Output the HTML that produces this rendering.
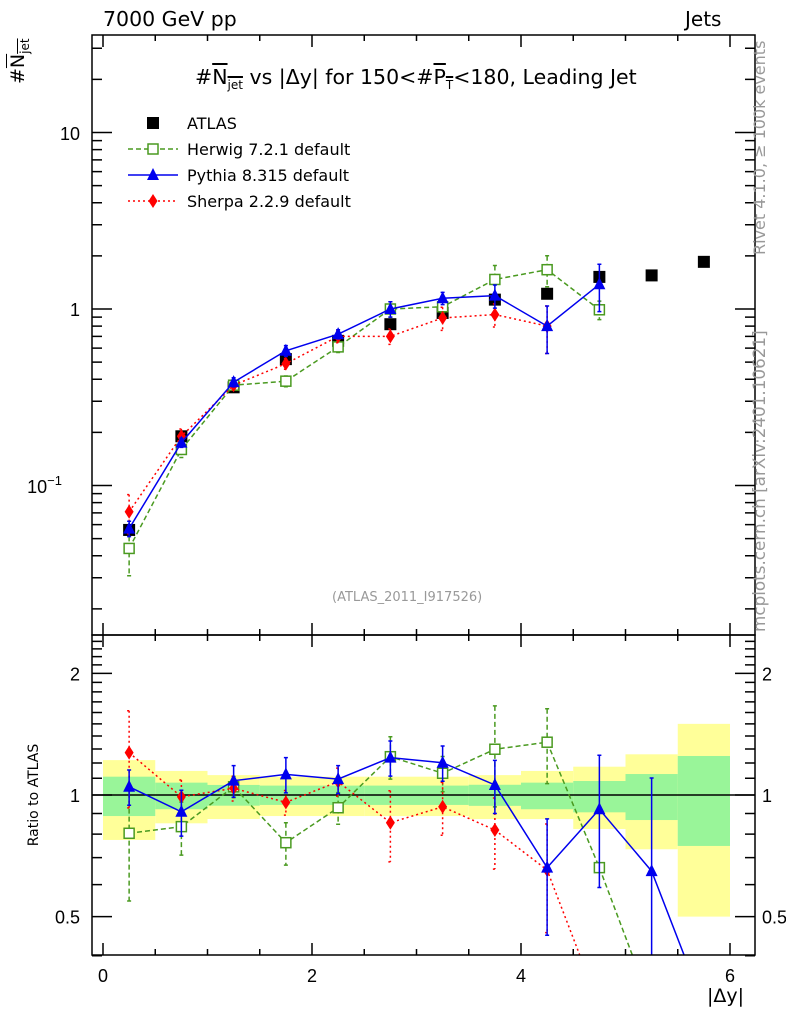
<!DOCTYPE html>
<html><head><meta charset="utf-8"><style>
html,body{margin:0;padding:0;width:786px;height:1024px;overflow:hidden;background:#fff;font-family:"DejaVu Sans","Liberation Sans",sans-serif;}
#wrap{position:relative;width:786px;height:1024px;overflow:hidden;}
.t{position:absolute;white-space:nowrap;color:#000;line-height:1.15;}
.ov{text-decoration:overline;}
</style></head><body>
<div id="wrap">
<svg id="svg" width="786" height="1024" style="position:absolute;left:0;top:0"></svg>
<div class="t" style="left:103px;top:8px;font-size:20.5px">7000 GeV pp</div>
<div class="t" style="left:685px;top:8px;font-size:20px">Jets</div>
<div class="t" style="left:195px;top:66px;font-size:20.5px">#<span class="ov">N<sub style="font-size:12px">jet</sub></span> vs |Δy| for 150&lt;#<span class="ov">P<sub style="font-size:12px">T</sub></span>&lt;180, Leading Jet</div>
<div class="t" style="left:8px;font-size:19px;transform:rotate(-90deg);transform-origin:left top;top:84px">#<span class="ov">N<sub style="font-size:12px">jet</sub></span></div>
<div class="t" style="left:332px;top:591px;font-size:13px;color:#999">(ATLAS_2011_I917526)</div>
<div class="t" style="left:707px;top:986px;font-size:19px">|Δy|</div>
</div>
<script>
const xc=[0.25,0.75,1.25,1.75,2.25,2.75,3.25,3.75,4.25,4.75,5.25,5.75];
const atlas=[0.056,0.19,0.36,0.52,0.66,0.82,0.95,1.13,1.22,1.52,1.55,1.85];
const herwig=[0.044,0.16,0.37,0.39,0.61,1.0,1.03,1.47,1.67,0.99];
const herwigErr=[0.3,0.1,0.05,0.07,0.07,0.1,0.08,0.2,0.2,0.12];
const pythia=[0.057,0.175,0.385,0.58,0.72,1.0,1.15,1.19,0.80,1.38];
const pythiaErr=[0.1,0.06,0.06,0.07,0.06,0.1,0.08,0.15,0.3,0.3];
const sherpa=[0.071,0.19,0.37,0.49,0.70,0.70,0.89,0.93,0.80];
const sherpaErr=[0.25,0.1,0.06,0.07,0.08,0.1,0.15,0.15,0.3];
const herwigR=[0.804,0.835,1.048,0.762,0.930,1.244,1.132,1.298,1.351,0.661,0.3];
const herwigRErr=[0.32,0.15,0.06,0.12,0.09,0.12,0.1,0.28,0.21,0];
const pythiaR=[1.048,0.909,1.085,1.125,1.095,1.237,1.202,1.059,0.661,0.922,0.648,0.3];
const pythiaRErr=[0.1,0.13,0.09,0.10,0.08,0.1,0.1,0.15,0.32,0.36,0.7];
const sherpaR=[1.273,0.990,1.039,0.959,1.079,0.854,0.935,0.819,0.652,0.3];
const sherpaRErr=[0.27,0.1,0.07,0.07,0.08,0.2,0.15,0.2,0.3];
const binEdges=[0,0.5,1,1.5,2,2.5,3,3.5,4,4.5,5,5.5,6];
const yelUp=[1.22,1.147,1.12,1.11,1.11,1.11,1.11,1.12,1.147,1.175,1.261,1.50];
const yelDn=[0.774,0.851,0.872,0.887,0.887,0.887,0.887,0.872,0.872,0.824,0.734,0.50];
const grnUp=[1.11,1.073,1.059,1.055,1.055,1.055,1.055,1.06,1.073,1.083,1.127,1.249];
const grnDn=[0.887,0.922,0.941,0.945,0.945,0.945,0.945,0.94,0.922,0.906,0.867,0.748];
const xTicks=[0,2,4,6];

const svg=document.getElementById('svg');const NS='http://www.w3.org/2000/svg';
const L=92,R=755,T=35,MB=635,RB=955;
const X=v=>103+104.5*v;
const Y=v=>309-176.5*Math.log10(v);
const YR=v=>795-404*Math.log10(v);
function mk(tag,a,name){const e=document.createElementNS(NS,tag);for(const k in a)e.setAttribute(k,a[k]);


svg.appendChild(e);return e;}
function txt(x,y,s,anchor,size,name,fam){const e=mk('text',{x:x,y:y,'text-anchor':anchor,'font-size':size,'font-family':fam||'Liberation Sans, sans-serif'},name);e.textContent=s;return e;}
const defs=mk('defs',{},'defs');
defs.innerHTML='<clipPath id="cm"><rect x="'+L+'" y="'+T+'" width="'+(R-L)+'" height="'+(MB-T)+'"/></clipPath><clipPath id="cr"><rect x="'+L+'" y="'+MB+'" width="'+(R-L)+'" height="'+(RB-MB)+'"/></clipPath>';
for(let i=0;i<yelUp.length;i++){
 mk('rect',{x:X(binEdges[i]),y:YR(yelUp[i]),width:X(binEdges[i+1])-X(binEdges[i]),height:YR(yelDn[i])-YR(yelUp[i]),fill:'#ffff99'},'syst-band-bin');
}
for(let i=0;i<grnUp.length;i++){
 mk('rect',{x:X(binEdges[i]),y:YR(grnUp[i]),width:X(binEdges[i+1])-X(binEdges[i]),height:YR(grnDn[i])-YR(grnUp[i]),fill:'#99f599'},'stat-band-bin');
}
mk('line',{x1:L,x2:R,y1:YR(1),y2:YR(1),stroke:'#000','stroke-width':1.5},'ratio-unity-line');
function series(vals,errs,yf,color,dash,marker,name,clip){
 const g=mk('g',{'clip-path':'url(#'+clip+')'},name);
 const pts=vals.map((v,i)=>X(xc[i])+','+yf(v)).join(' ');
 const pl=document.createElementNS(NS,'polyline');pl.setAttribute('points',pts);pl.setAttribute('fill','none');pl.setAttribute('stroke',color);pl.setAttribute('stroke-width',1.5);if(dash)pl.setAttribute('stroke-dasharray',dash);
 
 
 g.appendChild(pl);
 vals.forEach((v,i)=>{const x=X(xc[i]);
  if(errs&&errs[i]){const y1=yf(v*(1+errs[i])),y2=yf(Math.max(v*(1-errs[i]),0.01));
   const e=document.createElementNS(NS,'path');e.setAttribute('d','M'+x+' '+y1+'V'+y2+'M'+(x-2)+' '+y1+'h4M'+(x-2)+' '+y2+'h4');e.setAttribute('stroke',color);e.setAttribute('stroke-width',1.5);if(dash)e.setAttribute('stroke-dasharray',dash);
   
   
   g.appendChild(e);}
  const y=yf(v);let m;
  if(marker==='sq'){m=document.createElementNS(NS,'rect');m.setAttribute('x',x-5);m.setAttribute('y',y-5);m.setAttribute('width',10);m.setAttribute('height',10);m.setAttribute('fill','#fff');m.setAttribute('stroke',color);m.setAttribute('stroke-width',1.5);}
  else if(marker==='tri'){m=document.createElementNS(NS,'path');m.setAttribute('d','M'+x+' '+(y-7)+'L'+(x+6)+' '+(y+5)+'L'+(x-6)+' '+(y+5)+'Z');m.setAttribute('fill',color);}
  else if(marker==='dia'){m=document.createElementNS(NS,'path');m.setAttribute('d','M'+x+' '+(y-7)+'L'+(x+4.5)+' '+y+'L'+x+' '+(y+7)+'L'+(x-4.5)+' '+y+'Z');m.setAttribute('fill',color);}
  else {m=document.createElementNS(NS,'rect');m.setAttribute('x',x-6);m.setAttribute('y',y-6);m.setAttribute('width',12);m.setAttribute('height',12);m.setAttribute('fill','#000');}
  
  
  g.appendChild(m);});
}
const GR='#4a9a20',BL='#0000ee',RD='#ff0000';
series(atlas,null,Y,'none',null,'fill','atlas-data','cm');
series(herwig,herwigErr,Y,GR,'5,3','sq','herwig-series','cm');
series(sherpa,sherpaErr,Y,RD,'2,3','dia','sherpa-series','cm');
series(pythia,pythiaErr,Y,BL,null,'tri','pythia-series','cm');
series(herwigR,herwigRErr,YR,GR,'5,3','sq','herwig-ratio','cr');
series(sherpaR,sherpaRErr,YR,RD,'2,3','dia','sherpa-ratio','cr');
series(pythiaR,pythiaRErr,YR,BL,null,'tri','pythia-ratio','cr');
mk('rect',{x:L,y:T,width:R-L,height:MB-T,fill:'none',stroke:'#000','stroke-width':1.5},'main-frame');
mk('rect',{x:L,y:MB,width:R-L,height:RB-MB,fill:'none',stroke:'#000','stroke-width':1.5},'ratio-frame');
let d='';
for(let v=0;v<=6.001;v+=0.5){const x=X(v),maj=Math.abs(v-Math.round(v/2)*2)<1e-6,len=maj?12:6;
 d+='M'+x+' '+MB+'v'+(-len)+'M'+x+' '+T+'v'+len+'M'+x+' '+RB+'v'+(-len)+'M'+x+' '+MB+'v'+len;}
for(let e=-2;e<=1;e++)for(let k=1;k<10;k++){const v=k*Math.pow(10,e),y=Y(v);if(y<T||y>MB)continue;const len=k===1?20:10;d+='M'+L+' '+y+'h'+len+'M'+R+' '+y+'h'+(-len);}
[0.4,0.5,0.6,0.7,0.8,0.9,1,1.1,1.2,1.3,1.4,1.5,1.6,1.7,1.8,1.9,2,2.1,2.2,2.3,2.4].forEach(v=>{const y=YR(v);const len=(v===0.5||v===1||v===2)?20:10;d+='M'+L+' '+y+'h'+len+'M'+R+' '+y+'h'+(-len);});
mk('path',{d:d,stroke:'#000','stroke-width':1.5,fill:'none'},'axis-ticks');
xTicks.forEach(v=>txt(X(v),982,String(v),'middle',18,'x-tick-label'));
txt(80,140,'10','end',18,'y-tick-label-10');
txt(80,316,'1','end',18,'y-tick-label-1');
const t1=txt(62,493,'10','end',18,'y-tick-label-0.1');const ts=document.createElementNS(NS,'tspan');ts.setAttribute('dy','-8');ts.setAttribute('font-size','13');ts.textContent='−1';t1.appendChild(ts);
[['2',2],['1',1],['0.5',0.5]].forEach(([s,v])=>{txt(80,YR(v)+7,s,'end',18,'ratio-tick-label-left');txt(762,YR(v)+7,s,'start',18,'ratio-tick-label-right');});
const rl=txt(38,795,'Ratio to ATLAS','middle',14,'ratio-axis-title','DejaVu Sans, sans-serif');rl.setAttribute('transform','rotate(-90 38 795)');
const rv=txt(765,255,'Rivet 4.1.0, ≥ 100k events','start',16,'rivet-label','DejaVu Sans, sans-serif');rv.setAttribute('fill','#999');rv.setAttribute('transform','rotate(-90 765 255)');
const mc=txt(765,632,'mcplots.cern.ch [arXiv:2401.10621]','start',16.8,'mcplots-label','DejaVu Sans, sans-serif');mc.setAttribute('fill','#999');mc.setAttribute('transform','rotate(-90 765 632)');
const leg=[['ATLAS','#000',null,'fill'],['Herwig 7.2.1 default',GR,'5,3','sq'],['Pythia 8.315 default',BL,null,'tri'],['Sherpa 2.2.9 default',RD,'2,3','dia']];
leg.forEach((l,i)=>{const y=123+26*i;
 if(i>0)mk('line',{x1:128,x2:178,y1:y,y2:y,stroke:l[1],'stroke-width':1.5,'stroke-dasharray':l[2]||'none'},'legend-line');
 const x=153;
 if(l[3]==='fill')mk('rect',{x:x-6,y:y-6,width:12,height:12,fill:'#000'},'legend-marker');
 else if(l[3]==='sq')mk('rect',{x:x-5,y:y-5,width:10,height:10,fill:'#fff',stroke:l[1],'stroke-width':1.5},'legend-marker');
 else if(l[3]==='tri')mk('path',{d:'M'+x+' '+(y-7)+'L'+(x+6)+' '+(y+5)+'L'+(x-6)+' '+(y+5)+'Z',fill:l[1]},'legend-marker');
 else mk('path',{d:'M'+x+' '+(y-7)+'L'+(x+4.5)+' '+y+'L'+x+' '+(y+7)+'L'+(x-4.5)+' '+y+'Z',fill:l[1]},'legend-marker');
 txt(187,y+6,l[0],'start',16,'legend-entry','DejaVu Sans, sans-serif');});
</script>
</body></html>
